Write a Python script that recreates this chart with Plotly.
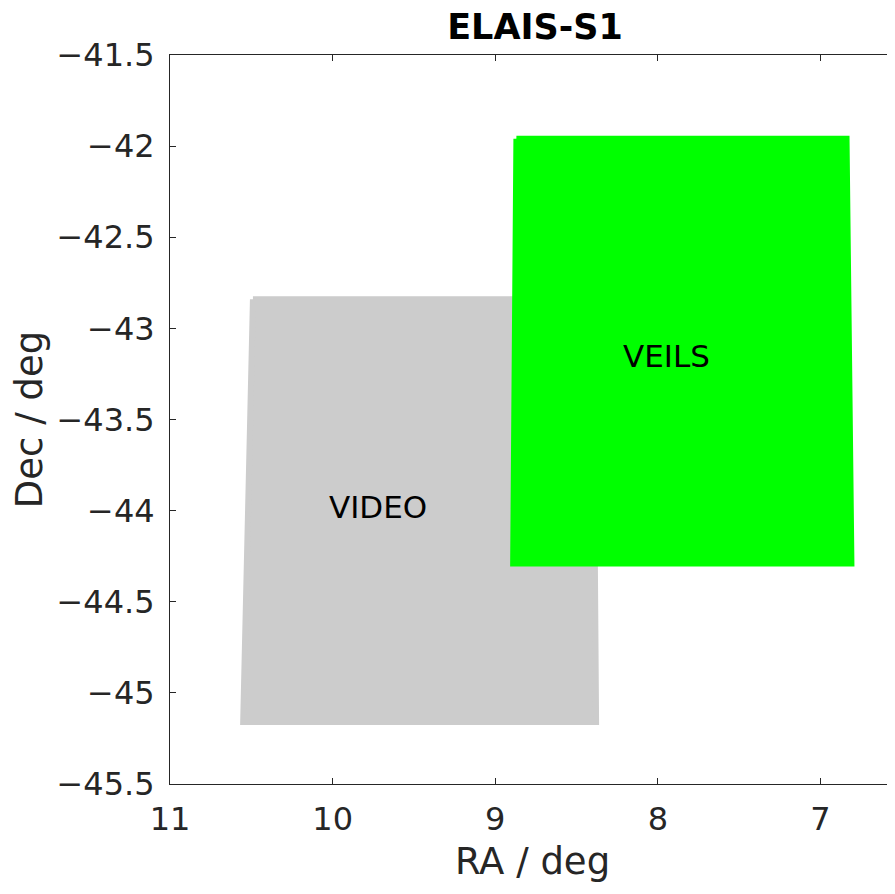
import plotly.graph_objects as go

# Survey footprints (polygon corners), RA/Dec in degrees
video_ra = [10.49, 8.40, 8.38, 10.55, 10.49]
video_dec = [-42.84, -42.84, -45.16, -45.16, -42.84]
veils_ra = [8.87, 6.84, 6.81, 8.89, 8.87]
veils_dec = [-41.96, -41.96, -44.29, -44.29, -41.96]

label_names = ["VIDEO", "VEILS"]
label_ra = [9.72, 7.95]
label_dec = [-43.98, -43.15]

x_ticks = [11, 10, 9, 8, 7]
y_ticks = [-41.5, -42, -42.5, -43, -43.5, -44, -44.5, -45, -45.5]

FONT = "DejaVu Sans"
AX = "#262626"

fig = go.Figure()
fig.add_trace(go.Scatter(x=video_ra, y=video_dec, mode="lines", fill="toself",
                         fillcolor="#cccccc", line=dict(color="#cccccc", width=6),
                         name="VIDEO", hoverinfo="skip"))
fig.add_trace(go.Scatter(x=veils_ra, y=veils_dec, mode="lines", fill="toself",
                         fillcolor="#00ff00", line=dict(color="#00ff00", width=6),
                         name="VEILS", hoverinfo="skip"))
# invisible trace for mirrored right-hand ticks
fig.add_trace(go.Scatter(x=[label_ra[0]], y=[label_dec[0]], yaxis="y2", mode="markers",
                         marker=dict(opacity=0), showlegend=False, hoverinfo="skip"))

for n, xr, yd in zip(label_names, label_ra, label_dec):
    fig.add_annotation(x=xr, y=yd, text=n, showarrow=False,
                       font=dict(family=FONT, size=31, color="black"))

x_range = [11, 6.542]
y_range = [-45.5, -41.5]

W, H = 887, 878
fig.update_layout(
    width=W, height=H,
    margin=dict(l=162, r=0, t=47, b=102),
    paper_bgcolor="white", plot_bgcolor="white",
    showlegend=False,
    title=dict(text="<b>ELAIS-S1</b>", x=527/W, xanchor="center", xref="container",
               y=1 - 19/H, yanchor="middle", yref="container",
               font=dict(family=FONT, size=35, color="black")),
    xaxis=dict(range=x_range, tickvals=x_ticks, ticktext=[str(v) for v in x_ticks],
               showgrid=False, zeroline=False, showline=True, linecolor=AX, linewidth=1,
               mirror="ticks", ticks="inside", ticklen=6, tickcolor=AX,
               ticklabelstandoff=7,
               tickfont=dict(family=FONT, size=32, color=AX),
               title=dict(text="RA / deg", font=dict(family=FONT, size=37, color=AX), standoff=10)),
    yaxis=dict(range=y_range, tickvals=y_ticks,
               ticktext=[("\u2212" + f"{abs(v):g}") for v in y_ticks],
               showgrid=False, zeroline=False, showline=True, linecolor=AX, linewidth=1,
               ticks="inside", ticklen=6, tickcolor=AX, ticklabelstandoff=8,
               tickfont=dict(family=FONT, size=32, color=AX),
               title=dict(text="Dec / deg", font=dict(family=FONT, size=37, color=AX), standoff=8)),
    yaxis2=dict(range=y_range, overlaying="y", side="right", tickvals=y_ticks,
                showticklabels=False, showgrid=False, zeroline=False, showline=False,
                ticks="inside", ticklen=5, tickcolor=AX),
)

fig.write_html("out.html")
